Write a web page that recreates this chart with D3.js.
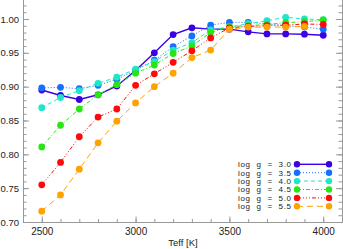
<!DOCTYPE html>
<html>
<head>
<meta charset="utf-8">
<script src="https://cdn.jsdelivr.net/npm/d3@7"></script>
<style>
  body { margin: 0; background: #fff; }
  svg { display: block; }
  text { font-family: "Liberation Sans", Arial, sans-serif; fill: #222; }
</style>
</head>
<body>
<script>
var width = 343;
var height = 249;

// effective temperatures of the grid
var teff = [2500, 2600, 2700, 2800, 2900, 3000, 3100, 3200, 3300, 3400, 3500, 3600, 3700, 3800, 3900, 4000];

// one series per surface gravity
var logg30 = [0.895, 0.887, 0.881, 0.888, 0.901, 0.924, 0.950, 0.977, 0.987, 0.985, 0.985, 0.981, 0.978, 0.978, 0.9775, 0.976];
var logg35 = [0.898, 0.899, 0.897, 0.902, 0.911, 0.924, 0.939, 0.959, 0.975, 0.991, 0.995, 0.995, 0.993, 0.990, 0.988, 0.985];
var logg40 = [0.869, 0.884, 0.894, 0.905, 0.914, 0.926, 0.937, 0.954, 0.965, 0.984, 0.988, 0.993, 0.9975, 1.0025, 1.000, 0.999];
var logg45 = [0.811, 0.843, 0.867, 0.888, 0.903, 0.920, 0.932, 0.949, 0.960, 0.980, 0.989, 0.990, 0.992, 0.9945, 0.996, 0.9985];
var logg50 = [0.755, 0.788, 0.826, 0.855, 0.867, 0.902, 0.919, 0.936, 0.953, 0.972, 0.987, 0.989, 0.990, 0.991, 0.9926, 0.992];
var logg55 = [0.716, 0.740, 0.778, 0.817, 0.849, 0.876, 0.900, 0.920, 0.943, 0.954, 0.985, 0.988, 0.988, 0.988, 0.989];

var labels = ["3.0", "3.5", "4.0", "4.5", "5.0", "5.5"];
var yTicks = [0.70, 0.75, 0.80, 0.85, 0.90, 0.95, 1.00];
var xTicks = [2500, 3000, 3500, 4000];

var series = [logg30, logg35, logg40, logg45, logg50, logg55];
var colors = ["#3c00e4", "#1470ff", "#1ee6c8", "#28e614", "#ff0a0a", "#ffa200"];
var dashes = ["none", "1,2", "4,3", "4,2,1,2", "4,2,1,2,1,2,1,2", "6,4"];
var widths = [1.4, 1, 1, 1, 1, 1];

var left = 23, right = 342, bottom = 222;

var x = d3.scaleLinear().domain([2400, 4100]).range([left, right]);
var y = d3.scaleLinear().domain([0.70, 1.03]).range([bottom, bottom - 33 * 6.767]);

var svg = d3.select("body").append("svg")
    .attr("width", width)
    .attr("height", height);

// axes (ticks point inward, IDL style)
var axisCol = "#999";

function styleAxis(g) {
  g.select(".domain").attr("stroke", axisCol);
  g.selectAll(".tick line").attr("stroke", axisCol);
  g.selectAll(".tick text").attr("fill", "#222").style("font-family", "Liberation Sans, Arial, sans-serif");
}

svg.append("g")
  .attr("transform", "translate(" + left + ",0)")
  .call(d3.axisLeft(y).tickValues(d3.range(0.70, 1.031, 0.01)).tickSize(-3.5).tickFormat("").tickSizeOuter(0))
  .call(styleAxis);
svg.append("g")
  .attr("transform", "translate(" + left + ",0)")
  .call(d3.axisLeft(y).tickValues(yTicks).tickSize(-6).tickPadding(4).tickFormat(d3.format(".2f")).tickSizeOuter(0))
  .call(styleAxis)
  .selectAll("text").style("font-size", "9.5px");

svg.append("g")
  .attr("transform", "translate(" + right + ",0)")
  .call(d3.axisRight(y).tickValues(d3.range(0.70, 1.031, 0.01)).tickSize(-3.5).tickFormat("").tickSizeOuter(0))
  .call(styleAxis);
svg.append("g")
  .attr("transform", "translate(" + right + ",0)")
  .call(d3.axisRight(y).tickValues(yTicks).tickSize(-6).tickFormat("").tickSizeOuter(0))
  .call(styleAxis);

svg.append("g")
  .attr("transform", "translate(0," + bottom + ")")
  .call(d3.axisBottom(x).tickValues(d3.range(2400, 4101, 100)).tickSize(-3).tickFormat("").tickSizeOuter(0))
  .call(styleAxis);
svg.append("g")
  .attr("transform", "translate(0," + bottom + ")")
  .call(d3.axisBottom(x).tickValues(xTicks).tickSize(-5.5).tickPadding(6).tickFormat(d3.format("d")).tickSizeOuter(0))
  .call(styleAxis)
  .selectAll("text").style("font-size", "10px");

svg.append("text")
  .attr("x", 183)
  .attr("y", 246)
  .attr("text-anchor", "middle")
  .style("font-size", "9.5px")
  .text("Teff [K]");

// series
var line = d3.line()
  .x(function(d) { return x(d[0]); })
  .y(function(d) { return y(d[1]); });

series.forEach(function(vals, i) {
  var pts = vals.map(function(v, j) { return [teff[j], v]; });
  var g = svg.append("g");
  g.append("path")
    .datum(pts)
    .attr("d", line)
    .attr("fill", "none")
    .attr("stroke", colors[i])
    .attr("stroke-width", widths[i])
    .attr("stroke-dasharray", dashes[i]);
  g.selectAll("circle")
    .data(pts)
    .enter().append("circle")
    .attr("cx", function(d) { return x(d[0]); })
    .attr("cy", function(d) { return y(d[1]); })
    .attr("r", 3.4)
    .attr("fill", colors[i]);
});

// legend
var legend = svg.append("g");
labels.forEach(function(lab, i) {
  var ly = 164.3 + i * 8.4;
  legend.append("text")
    .attr("x", 291)
    .attr("y", ly + 2.9)
    .attr("text-anchor", "end")
    .attr("textLength", 53)
    .attr("lengthAdjust", "spacing")
    .style("font-size", "8px")
    .style("white-space", "pre")
    .text("log  g  =  " + lab);
  legend.append("line")
    .attr("x1", 297).attr("x2", 329)
    .attr("y1", ly).attr("y2", ly)
    .attr("stroke", colors[i])
    .attr("stroke-width", widths[i])
    .attr("stroke-dasharray", dashes[i]);
  legend.selectAll(".m" + i)
    .data([297, 329])
    .enter().append("circle")
    .attr("cx", function(d) { return d; })
    .attr("cy", ly)
    .attr("r", 3.2)
    .attr("fill", colors[i]);
});
</script>
</body>
</html>
